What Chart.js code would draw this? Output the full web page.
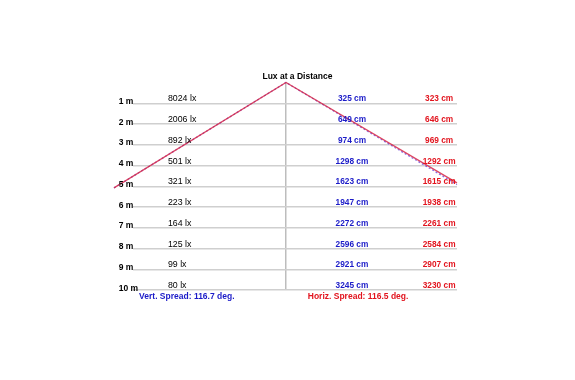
<!DOCTYPE html>
<html><head><meta charset="utf-8">
<script src="https://cdn.jsdelivr.net/npm/chart.js@4.4.0/dist/chart.umd.min.js"></script>
<style>html,body{margin:0;padding:0;background:#fff}canvas{display:block}</style>
</head><body>
<canvas id="c" width="575" height="380"></canvas>
<script>
const chartTitle = 'Lux at a Distance';
const distances = [1, 2, 3, 4, 5, 6, 7, 8, 9, 10];
const rowLabels = ['1 m', '2 m', '3 m', '4 m', '5 m', '6 m', '7 m', '8 m', '9 m', '10 m'];
const luxValues = [8024, 2006, 892, 501, 321, 223, 164, 125, 99, 80];
const vertCm = [325, 649, 974, 1298, 1623, 1947, 2272, 2596, 2921, 3245];
const horizCm = [323, 646, 969, 1292, 1615, 1938, 2261, 2584, 2907, 3230];
const vertSpread = 116.7;
const horizSpread = 116.5;
// beam outline points (lateral offset m, distance m)
const beamVertX = [-8.29, 0, 8.24];
const beamVertY = [5.08, 0, 4.92];
const beamHorizX = [-8.29, 0, 8.24];
const beamHorizY = [5.08, 0, 4.84];

const BLUE = '#1b1bc8';
const RED = '#e2141e';
const FONT = '"Liberation Sans", Arial, sans-serif';

const textPlugin = {
  id: 'texts',
  afterDraw(chart) {
    const ctx = chart.ctx, xs = chart.scales.x, ys = chart.scales.y;
    ctx.save();
    ctx.fillStyle = '#000';
    ctx.font = 'bold 8.5px ' + FONT;
    ctx.textAlign = 'center';
    ctx.textBaseline = 'middle';
    ctx.fillText(chartTitle, xs.getPixelForValue(0.55), ys.getPixelForValue(-0.29));
    ctx.textBaseline = 'alphabetic';
    distances.forEach((d, i) => {
      const y = ys.getPixelForValue(d);
      ctx.textAlign = 'left';
      ctx.fillStyle = '#000';
      ctx.font = 'bold 8.5px ' + FONT;
      ctx.fillText(rowLabels[i], xs.getPixelForValue(-8.06), y + 0.5);
      ctx.font = '8.8px ' + FONT;
      ctx.fillText(luxValues[i] + ' lx', xs.getPixelForValue(-5.69), y - 2);
      ctx.textAlign = 'center';
      ctx.font = 'bold 8.3px ' + FONT;
      ctx.fillStyle = BLUE;
      ctx.fillText(vertCm[i] + ' cm', xs.getPixelForValue(3.18), y - 2);
      ctx.fillStyle = RED;
      ctx.fillText(horizCm[i] + ' cm', xs.getPixelForValue(7.38), y - 2);
    });
    ctx.textAlign = 'left';
    ctx.textBaseline = 'middle';
    ctx.font = 'bold 8.5px ' + FONT;
    ctx.fillStyle = BLUE;
    ctx.fillText('Vert. Spread: ' + vertSpread.toFixed(1) + ' deg.', xs.getPixelForValue(-7.08), ys.getPixelForValue(10.3));
    ctx.fillStyle = RED;
    ctx.fillText('Horiz. Spread: ' + horizSpread.toFixed(1) + ' deg.', xs.getPixelForValue(1.05), ys.getPixelForValue(10.3));
    ctx.restore();
  }
};

new Chart(document.getElementById('c'), {
  type: 'scatter',
  data: {
    datasets: [
      {
        label: 'Horizontal',
        data: beamHorizX.map((x, i) => ({x, y: beamHorizY[i]})),
        showLine: true, borderColor: 'rgba(215,40,70,0.85)', borderWidth: 1.3,
        pointRadius: 0, clip: false, tension: 0
      },
      {
        label: 'Vertical',
        data: beamVertX.map((x, i) => ({x, y: beamVertY[i]})),
        showLine: true, borderColor: 'rgba(110,70,220,0.8)', borderWidth: 1.3,
        borderDash: [2, 2], pointRadius: 0, clip: false, tension: 0
      }
    ]
  },
  options: {
    responsive: false, animation: false,
    layout: {padding: {left: 133, right: 118, top: 82.5, bottom: 90}},
    plugins: {legend: {display: false}, tooltip: {enabled: false}, title: {display: false}},
    scales: {
      x: {
        type: 'linear', min: -7.373, max: 8.241,
        afterBuildTicks: (s) => { s.ticks = [{value: 0}]; },
        ticks: {display: false},
        border: {display: false},
        grid: {drawTicks: false, color: '#bdbdbd', lineWidth: 1.5}
      },
      y: {
        type: 'linear', min: 0, max: 10, reverse: true,
        afterBuildTicks: (s) => { s.ticks = distances.map(v => ({value: v})); },
        ticks: {display: false},
        border: {display: false},
        grid: {drawTicks: false, color: '#cfcfcf', lineWidth: 1.5}
      }
    }
  },
  plugins: [textPlugin]
});
</script>
</body></html>
